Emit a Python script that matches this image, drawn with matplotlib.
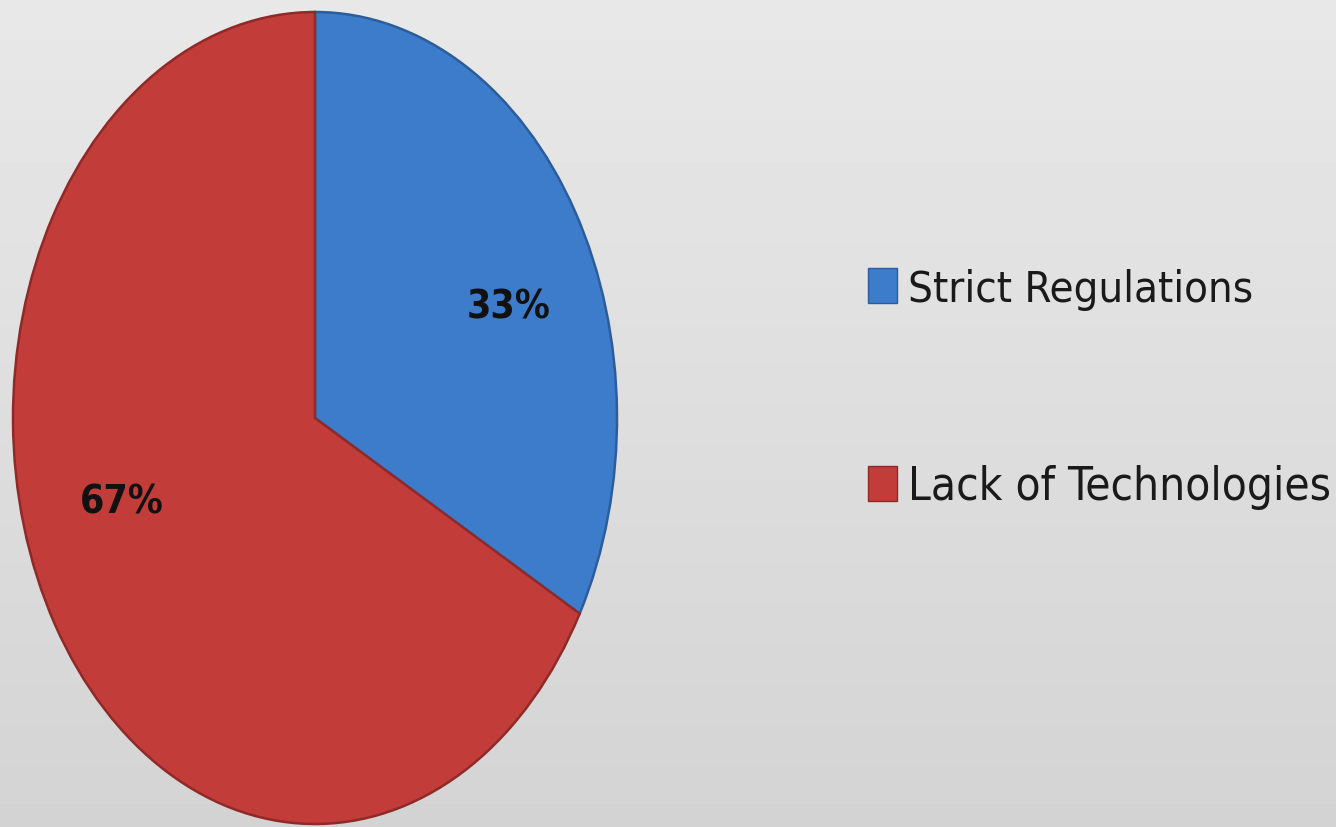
import numpy as np
import matplotlib.pyplot as plt
from matplotlib.patches import Rectangle

labels = ["Strict Regulations", "Lack of Technologies"]
shares = [33, 67]
colors = ["#3d7ccb", "#c23c3a"]
edge_colors = ["#2a5d9c", "#8f2a28"]

plt.rcParams["font.family"] = ["DejaVu Sans"]
plt.rcParams["font.stretch"] = "condensed"

fig = plt.figure(figsize=(13.36, 8.27), dpi=100)
renderer = fig.canvas.get_renderer()


def fit_width(txt, width_px):
    # shrink/grow the font so the label spans the wanted pixel width
    w = txt.get_window_extent(renderer).width
    txt.set_fontsize(txt.get_fontsize() * width_px / w)


# soft grey backdrop, a little lighter towards the top
bg = fig.add_axes([0, 0, 1, 1], zorder=0)
grad = np.linspace(0.91, 0.83, 256).reshape(-1, 1)
bg.imshow(grad, cmap="gray", vmin=0, vmax=1, aspect="auto", extent=(0, 1, 0, 1))
bg.set_axis_off()

ax = fig.add_axes([0, 0, 1, 1], zorder=1)
ax.patch.set_alpha(0)
wedges, _ = ax.pie(shares, colors=colors, startangle=90, counterclock=False,
                   radius=1.0, center=(0, 0),
                   wedgeprops=dict(linewidth=1.8))
for w, ec in zip(wedges, edge_colors):
    w.set_edgecolor(ec)

# stretched vertically into an ellipse
ax.set_aspect("auto")
ax.set_xlim(-315 / 302, (1336 - 315) / 302)
ax.set_ylim(-(827 - 418) / 406, 418 / 406)
ax.set_axis_off()

label_pos = [(0.642, 0.271), (-0.639, -0.209)]
for (x, y), v in zip(label_pos, shares):
    t = ax.text(x, y, f"{v}%", ha="center", va="center", fontsize=37,
                fontweight="bold", color="#111111")
    fit_width(t, 84)

# legend on the right
marker_bottoms = [0.634, 0.394]
text_baselines = [0.635, 0.395]
text_widths = [345, 422]
for name, c, ec, yb, yt, tw in zip(labels, colors, edge_colors, marker_bottoms,
                                   text_baselines, text_widths):
    fig.patches.append(Rectangle((0.650, yb), 0.0217, 0.042, transform=fig.transFigure,
                                 facecolor=c, edgecolor=ec, linewidth=1, zorder=3))
    t = fig.text(0.680, yt, name, ha="left", va="baseline", fontsize=40,
                 color="#1a1a1a", zorder=3)
    fit_width(t, tw)

fig.savefig("out.png", dpi=100)
